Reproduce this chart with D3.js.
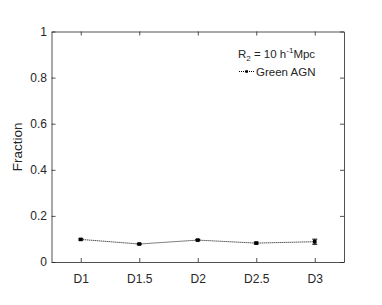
<!DOCTYPE html>
<html>
<head>
<meta charset="utf-8">
<script src="https://cdn.jsdelivr.net/npm/d3@7"></script>
<style>
  body { margin: 0; background: #fff; }
  text { font-family: "Liberation Sans", Arial, sans-serif; fill: #262626; }
</style>
</head>
<body>
<div id="chart"></div>
<script>
/* DATA */
const categories = ["D1", "D1.5", "D2", "D2.5", "D3"];
const fraction = [0.098, 0.078, 0.095, 0.082, 0.088];
const errors = [0.003, 0.003, 0.003, 0.004, 0.011];
const yTicks = [0, 0.2, 0.4, 0.6, 0.8, 1];
const seriesName = "Green AGN";

/* CONSTANTS */
const width = 382, height = 305,
  margin = { top: 31.5, bottom: 43, left: 51.5, right: 38 };

const svg = d3.select("#chart")
  .append("svg")
  .attr("width", width)
  .attr("height", height);

const xScale = d3.scaleLinear()
  .domain([0.5, categories.length + 0.5])
  .range([margin.left, width - margin.right]);

const yScale = d3.scaleLinear()
  .domain([0, 1])
  .range([height - margin.bottom, margin.top]);

const idx = categories.map((d, i) => i + 1);

// axes (ticks inside, mirrored on top/right)
const xAxis = d3.axisBottom(xScale).tickValues(idx)
  .tickFormat(d => categories[d - 1]).tickSizeInner(-4).tickSizeOuter(0).tickPadding(12);
const yAxis = d3.axisLeft(yScale).tickValues(yTicks)
  .tickFormat(d3.format("")).tickSizeInner(-4).tickSizeOuter(0).tickPadding(4.5);

svg.append("g")
  .attr("transform", `translate(0, ${height - margin.bottom})`)
  .call(xAxis);
svg.append("g")
  .attr("transform", `translate(${margin.left}, 0)`)
  .call(yAxis);

svg.append("g")
  .attr("transform", `translate(0, ${margin.top})`)
  .call(d3.axisTop(xScale).tickValues(idx).tickFormat("").tickSizeInner(-4).tickSizeOuter(0));
svg.append("g")
  .attr("transform", `translate(${width - margin.right}, 0)`)
  .call(d3.axisRight(yScale).tickValues(yTicks).tickFormat("").tickSizeInner(-4).tickSizeOuter(0));

svg.selectAll(".domain").attr("stroke", "#262626").attr("stroke-width", 0.8);
svg.selectAll(".tick line").attr("stroke", "#262626").attr("stroke-width", 0.8);
svg.selectAll(".tick text").attr("font-size", 12).attr("fill", "#262626");

svg.append("text")
  .attr("transform", `translate(21.5, ${(margin.top + height - margin.bottom) / 2}) rotate(-90)`)
  .attr("text-anchor", "middle")
  .attr("font-size", 13.5)
  .text("Fraction");

// line
const lineGen = d3.line()
  .x((d, i) => xScale(i + 1))
  .y(d => yScale(d));

svg.append("path")
  .datum(fraction)
  .attr("d", lineGen)
  .attr("fill", "none")
  .attr("stroke", "#000")
  .attr("stroke-width", 1)
  .attr("stroke-dasharray", "1,1");

// error bars
const eb = svg.selectAll(".err")
  .data(fraction)
  .join("g")
  .attr("class", "err");
eb.append("line")
  .attr("x1", (d, i) => xScale(i + 1)).attr("x2", (d, i) => xScale(i + 1))
  .attr("y1", (d, i) => yScale(d - errors[i])).attr("y2", (d, i) => yScale(d + errors[i]))
  .attr("stroke", "#000").attr("stroke-width", 1);
eb.append("line")
  .attr("x1", (d, i) => xScale(i + 1) - 2.5).attr("x2", (d, i) => xScale(i + 1) + 2.5)
  .attr("y1", (d, i) => yScale(d - errors[i])).attr("y2", (d, i) => yScale(d - errors[i]))
  .attr("stroke", "#000").attr("stroke-width", 1);
eb.append("line")
  .attr("x1", (d, i) => xScale(i + 1) - 2.5).attr("x2", (d, i) => xScale(i + 1) + 2.5)
  .attr("y1", (d, i) => yScale(d + errors[i])).attr("y2", (d, i) => yScale(d + errors[i]))
  .attr("stroke", "#000").attr("stroke-width", 1);

// markers
svg.selectAll(".pt")
  .data(fraction)
  .join("rect")
  .attr("class", "pt")
  .attr("x", (d, i) => xScale(i + 1) - 1.8)
  .attr("y", d => yScale(d) - 1.8)
  .attr("width", 3.6).attr("height", 3.6)
  .attr("fill", "#000");

// legend
const lg = svg.append("g");
const lt = lg.append("text")
  .attr("x", 238).attr("y", 58)
  .attr("font-size", 11.5)
  .attr("fill", "#000");
lt.append("tspan").text("R");
lt.append("tspan").attr("font-size", 8).attr("dy", 3).text("2");
lt.append("tspan").attr("dy", -3).text(" = 10 h");
lt.append("tspan").attr("font-size", 8).attr("dy", -5).text("-1");
lt.append("tspan").attr("dy", 5).text("Mpc");

lg.append("line")
  .attr("x1", 239).attr("x2", 254).attr("y1", 71.5).attr("y2", 71.5)
  .attr("stroke", "#000").attr("stroke-dasharray", "1,1");
lg.append("rect")
  .attr("x", 245.3).attr("y", 70.2).attr("width", 2.6).attr("height", 2.6).attr("fill", "#000");
lg.append("text")
  .attr("x", 256).attr("y", 75.5)
  .attr("font-size", 11.5)
  .attr("fill", "#000")
  .text(seriesName);
</script>
</body>
</html>
